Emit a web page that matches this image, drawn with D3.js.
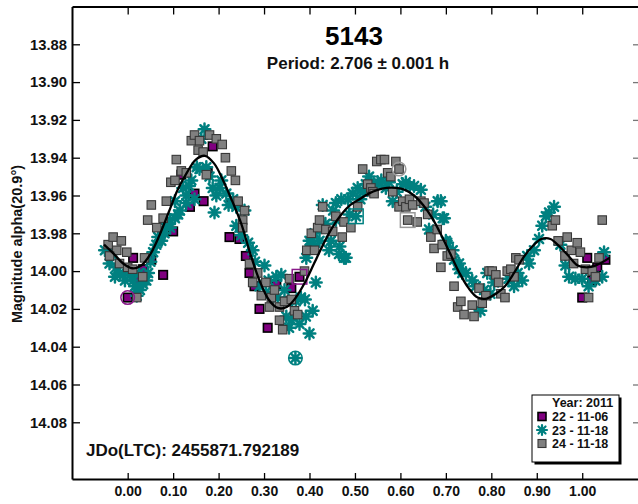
<!DOCTYPE html>
<html>
<head>
<meta charset="utf-8">
<script src="https://cdn.jsdelivr.net/npm/d3@7"></script>
<style>
  html, body { margin: 0; padding: 0; background: #fff; }
  svg { display: block; font-family: "Liberation Sans", Arial, sans-serif; font-weight: bold; }
</style>
</head>
<body>
<svg id="chart" width="638" height="504"></svg>
<script>
// Axis ticks
const xTickValues = [0.0, 0.1, 0.2, 0.3, 0.4, 0.5, 0.6, 0.7, 0.8, 0.9, 1.0];
const yTickValues = [13.88, 13.90, 13.92, 13.94, 13.96, 13.98, 14.00, 14.02, 14.04, 14.06, 14.08];

// Session names (legend)
const sessions = ["22 - 11-06", "23 - 11-18", "24 - 11-18"];

// Session 22 (2011-11-06): [phase, magnitude]
const s22 = [
  [0.000,14.014],[0.012,13.993],[0.023,14.005],[0.034,13.999],[0.052,13.994],[0.078,14.002],
  [0.100,13.979],[0.118,13.949],[0.137,13.966],[0.147,13.959],[0.167,13.963],[0.176,13.948],
  [0.187,13.934],[0.224,13.982],[0.228,13.964],[0.246,13.983],[0.260,13.992],[0.268,14.001],
  [0.279,14.008],[0.290,14.020],[0.308,14.030],[0.327,14.007],[0.352,14.016],[0.360,14.009],
  [0.378,14.003],
  [1.000,14.014],[1.011,13.993],[1.022,14.005],[1.033,13.998],[1.051,13.994]
];
const s22First = [0.000, 14.014];
const s22Last = [0.378, 14.003];

// Session 23 (2011-11-18)
const s23 = [
  [-0.050,13.989],[-0.040,13.996],[-0.035,13.991],[-0.028,14.003],[-0.025,13.998],[-0.017,14.001],
  [-0.006,14.005],[0.004,14.002],[0.012,14.005],[0.016,14.008],[0.020,14.013],[0.025,14.001],
  [0.027,14.010],[0.034,14.007],[0.041,14.005],[0.045,14.001],[0.050,13.995],[0.056,13.990],
  [0.063,13.986],[0.067,13.982],[0.074,13.984],[0.078,13.978],[0.081,13.980],[0.085,13.975],
  [0.093,13.977],[0.093,13.973],[0.104,13.972],[0.104,13.963],[0.111,13.970],[0.115,13.968],
  [0.122,13.956],[0.129,13.960],[0.129,13.964],[0.135,13.955],[0.140,13.952],[0.147,13.962],
  [0.152,13.945],[0.158,13.946],[0.162,13.930],[0.169,13.925],[0.173,13.945],[0.180,13.950],
  [0.187,13.956],[0.191,13.969],[0.195,13.960],[0.202,13.956],[0.206,13.952],[0.217,13.959],
  [0.222,13.965],[0.232,13.962],[0.239,13.966],[0.239,13.976],[0.246,13.977],[0.250,13.981],
  [0.257,13.968],[0.265,13.985],
  [0.275,13.989],[0.280,13.995],[0.290,14.008],[0.301,13.997],[0.304,14.011],[0.310,14.005],
  [0.320,14.013],[0.327,14.003],[0.330,14.014],[0.338,14.002],[0.345,14.010],[0.349,14.024],
  [0.355,14.030],[0.360,14.026],[0.369,14.046],[0.370,14.016],[0.378,14.028],[0.381,14.014],
  [0.390,14.015],[0.392,14.024],[0.400,14.033],[0.407,14.021],[0.414,14.006],
  [0.400,13.984],[0.393,13.993],[0.407,13.986],[0.411,13.980],[0.422,13.984],
  [0.429,13.965],[0.435,13.975],[0.443,13.989],[0.447,13.984],[0.452,13.968],[0.458,13.964],
  [0.458,13.973],[0.465,13.991],[0.466,13.987],[0.470,13.962],[0.476,13.993],[0.480,13.993],
  [0.485,13.962],[0.488,13.970],[0.495,13.959],[0.502,13.971],[0.506,13.956],[0.512,13.962],
  [0.518,13.958],[0.524,13.954],[0.531,13.950],[0.540,13.955],[0.550,13.953],[0.558,13.952],
  [0.568,13.956],[0.575,13.953],[0.583,13.963],[0.592,13.958],[0.605,13.954],[0.612,13.953],
  [0.620,13.955],[0.630,13.955],[0.645,13.957],[0.655,13.966],[0.663,13.978],[0.672,13.970],
  [0.682,13.963],[0.689,13.963],[0.693,13.972],[0.696,13.972],[0.700,13.984],[0.703,13.985],
  [0.715,13.989],[0.718,13.994],[0.729,13.996],[0.729,13.999],[0.736,14.001],[0.744,14.001],
  [0.758,14.005],[0.766,14.008],[0.776,14.021],[0.784,14.010],[0.791,14.001],[0.798,14.012],
  [0.806,14.006],[0.838,14.004],[0.850,14.008],[0.858,14.001],
  [0.868,14.005],[0.879,13.992],[0.883,13.996],[0.894,13.989],[0.905,13.983],[0.912,13.976],
  [0.920,13.971],[0.927,13.969],[0.938,13.966],[0.952,13.986],[0.963,13.997],[0.971,14.003],
  [0.985,14.004],[1.000,14.004],[1.014,14.008],[1.029,14.005],[1.044,14.003],[1.048,13.990]
];
const s23First = [0.369, 14.046];
const s23Last = [0.502, 13.971];

// Session 24 (2011-11-18)
const s24 = [
  [-0.043,13.986],[-0.032,13.982],[-0.014,13.984],[-0.024,13.989],[-0.002,13.990],[-0.040,13.992],
  [-0.018,13.996],[0.000,13.998],[0.011,13.999],[0.033,14.003],[0.037,13.993],[0.020,14.014],
  [0.044,13.973],[0.064,13.977],[0.052,13.965],[0.078,13.972],[0.085,13.963],
  [0.095,13.953],[0.104,13.952],[0.107,13.941],[0.118,13.947],[0.129,13.948],[0.140,13.931],
  [0.147,13.928],[0.155,13.936],[0.158,13.931],[0.166,13.937],[0.173,13.949],[0.180,13.928],
  [0.195,13.930],[0.208,13.933],[0.215,13.940],[0.228,13.947],[0.237,13.952],[0.243,13.963],
  [0.253,13.973],[0.257,13.968],[0.253,13.977],
  [0.268,13.996],[0.275,14.006],[0.286,14.001],[0.294,14.013],[0.304,14.006],[0.312,14.019],
  [0.316,14.014],[0.323,14.010],[0.334,14.019],[0.345,14.016],[0.356,14.004],[0.360,14.015],
  [0.367,14.021],[0.374,14.023],[0.334,14.026],[0.341,14.031],[0.389,14.000],[0.394,13.989],
  [0.404,13.980],[0.411,13.989],[0.418,13.977],
  [0.422,13.973],[0.429,13.966],[0.436,13.978],[0.451,13.979],[0.458,13.971],[0.472,13.982],
  [0.476,13.974],[0.491,13.977],[0.506,13.966],[0.517,13.946],[0.528,13.954],[0.535,13.956],
  [0.539,13.958],[0.542,13.959],[0.548,13.942],[0.557,13.941],[0.565,13.941],[0.572,13.948],
  [0.579,13.950],[0.583,13.958],[0.590,13.942],[0.597,13.946],[0.597,13.966],[0.605,13.963],
  [0.612,13.966],[0.616,13.973],[0.620,13.962],[0.627,13.965],[0.637,13.974],[0.645,13.963],
  [0.652,13.964],[0.660,13.970],[0.667,13.982],[0.674,13.988],[0.681,13.978],[0.689,13.998],
  [0.692,13.986],[0.703,13.992],[0.711,13.991],
  [0.718,14.008],[0.726,14.019],[0.733,14.016],[0.740,14.023],[0.758,14.018],[0.762,14.024],
  [0.773,14.009],[0.780,14.017],[0.788,14.013],[0.795,14.000],[0.802,14.000],[0.810,14.002],
  [0.816,14.006],[0.821,14.012],[0.830,14.014],[0.835,14.000],[0.843,13.999],[0.850,14.003],
  [0.854,13.993],[0.861,13.994],[0.934,13.976],[0.941,13.973],[0.947,13.984],[0.962,13.992],
  [0.967,13.982],[0.976,13.989],[0.981,13.996],[0.989,13.985],[0.996,13.990],
  [1.007,13.999],[1.014,14.014],[1.022,14.000],[1.029,14.003],[1.037,13.993],[1.044,13.973]
];
const s24First = [0.597, 13.946];
const s24Last = [0.616, 13.973];

// Fitted lightcurve (Fourier fit), read at regular phases
const fitPhase = [-0.052,-0.03,-0.01,0.01,0.03,0.05,0.07,0.09,0.11,0.13,0.15,0.17,0.19,0.21,0.23,0.25,
  0.27,0.29,0.31,0.33,0.35,0.37,0.39,0.41,0.43,0.45,0.47,0.49,0.51,0.53,0.55,0.57,0.59,0.61,0.63,
  0.65,0.67,0.69,0.71,0.73,0.75,0.77,0.79,0.81,0.83,0.85,0.87,0.89,0.91,0.93,0.95,0.97,0.99,1.01,
  1.03,1.06];
const fitMag = [13.986,13.991,13.996,13.9985,13.997,13.991,13.981,13.969,13.957,13.948,13.941,13.939,
  13.943,13.952,13.963,13.975,13.991,14.005,14.015,14.0195,14.019,14.014,14.006,13.996,13.986,13.977,
  13.970,13.965,13.962,13.959,13.957,13.956,13.956,13.957,13.960,13.965,13.972,13.981,13.991,14.001,
  14.009,14.014,14.0145,14.012,14.008,14.001,13.993,13.987,13.983,13.983,13.987,13.992,13.997,13.998,
  13.997,13.993];

const svg = d3.select("#chart");

const plotLeft = 72, plotRight = 641, plotTop = 6.5, plotBottom = 479;

const x = d3.scaleLinear().domain([-0.1225, 1.1293]).range([plotLeft, plotRight]);
const y = d3.scaleLinear().domain([13.86, 14.11]).range([plotTop, plotBottom]);

// Frame axes
const axisLeft = d3.axisLeft(y).tickValues(yTickValues).tickFormat(d3.format(".2f"))
  .tickSizeInner(-8).tickSizeOuter(0).tickPadding(5);
const axisBottom = d3.axisBottom(x).tickValues(xTickValues).tickFormat(d3.format(".2f"))
  .tickSizeInner(-6).tickSizeOuter(0).tickPadding(7);
const axisTop = d3.axisTop(x).tickValues(xTickValues).tickFormat("")
  .tickSizeInner(-8).tickSizeOuter(0);
const axisRight = d3.axisRight(y).tickValues(yTickValues).tickFormat("")
  .tickSizeInner(-8).tickSizeOuter(0);

function styleAxis(g, color, fontSize) {
  g.select(".domain").attr("stroke", color).attr("stroke-width", 2);
  g.selectAll(".tick line").attr("stroke", color).attr("stroke-width", 1.3);
  g.selectAll(".tick text").attr("fill", "#111").style("font-size", fontSize)
    .style("font-weight", "bold").style("font-family", "'Liberation Sans', Arial, sans-serif");
}

svg.append("g").attr("transform", `translate(0,${plotTop})`).call(axisTop).call(g => styleAxis(g, "#000", "14px"));
svg.append("g").attr("transform", `translate(${plotRight},0)`).call(axisRight).call(g => styleAxis(g, "#777", "14px"));
svg.append("g").attr("transform", `translate(${plotLeft},0)`).call(axisLeft).call(g => styleAxis(g, "#000", "14.8px"));
svg.append("g").attr("transform", `translate(0,${plotBottom})`).call(axisBottom).call(g => styleAxis(g, "#000", "14px"));

// Y axis title
svg.append("text")
  .attr("transform", `translate(22,244) rotate(-90)`)
  .attr("text-anchor", "middle")
  .style("font-size", "14.5px")
  .attr("fill", "#111")
  .text("Magnitude alpha(20.9°)");

// Titles
svg.append("text").attr("x", 354).attr("y", 45).attr("text-anchor", "middle")
  .style("font-size", "26px").attr("fill", "#000").text("5143");
svg.append("text").attr("x", 358).attr("y", 69).attr("text-anchor", "middle")
  .style("font-size", "17px").attr("fill", "#111").text("Period: 2.706 ± 0.001 h");
svg.append("text").attr("x", 86).attr("y", 456)
  .style("font-size", "17px").attr("fill", "#111").text("JDo(LTC): 2455871.792189");

// Marker shapes
const sq = 8.5;
function asteriskPath(r) {
  const a = r * 0.7071;
  return `M${-r},0L${r},0M0,${-r}L0,${r}M${-a},${-a}L${a},${a}M${-a},${a}L${a},${-a}`;
}

const marks = svg.append("g");

// Session 22: purple squares
marks.append("g").selectAll("rect").data(s22).join("rect")
  .attr("x", d => x(d[0]) - sq / 2).attr("y", d => y(d[1]) - sq / 2)
  .attr("width", sq).attr("height", sq)
  .attr("fill", "#800080").attr("stroke", "#000").attr("stroke-width", 1.6);

// Session 23: teal asterisks
marks.append("g").selectAll("path").data(s23).join("path")
  .attr("transform", d => `translate(${x(d[0])},${y(d[1])})`)
  .attr("d", asteriskPath(5.8))
  .attr("fill", "none").attr("stroke", "#008080").attr("stroke-width", 2.5)
  .attr("stroke-linecap", "round");

// Session 24: gray squares
marks.append("g").selectAll("rect").data(s24).join("rect")
  .attr("x", d => x(d[0]) - sq / 2).attr("y", d => y(d[1]) - sq / 2)
  .attr("width", sq).attr("height", sq)
  .attr("fill", "#808080").attr("stroke", "#383838").attr("stroke-width", 1.1);

// First (circle) and last (box) points of each session
const ends = [
  { first: s22First, last: s22Last, color: "#8a1a8a" },
  { first: s23First, last: s23Last, color: "#008080" },
  { first: s24First, last: s24Last, color: "#9a9a9a" }
];
ends.forEach(e => {
  marks.append("circle").attr("cx", x(e.first[0])).attr("cy", y(e.first[1])).attr("r", 6.8)
    .attr("fill", "none").attr("stroke", e.color).attr("stroke-width", 1.5);
  marks.append("rect").attr("x", x(e.last[0]) - 7.3).attr("y", y(e.last[1]) - 7.3)
    .attr("width", 14.6).attr("height", 14.6)
    .attr("fill", "none").attr("stroke", e.color).attr("stroke-width", 1.5);
});

// Fitted curve
const fit = fitPhase.map((p, i) => [p, fitMag[i]]);
svg.append("path").datum(fit)
  .attr("d", d3.line().x(d => x(d[0])).y(d => y(d[1])).curve(d3.curveCatmullRom))
  .attr("fill", "none").attr("stroke", "#000").attr("stroke-width", 2.3);

// Legend
const lg = svg.append("g");
const lx = 532, ly = 395, lw = 87, lh = 67;
lg.append("rect").attr("x", lx + 2.5).attr("y", ly + 2.5).attr("width", lw).attr("height", lh).attr("fill", "#000");
lg.append("rect").attr("x", lx).attr("y", ly).attr("width", lw).attr("height", lh)
  .attr("fill", "#fff").attr("stroke", "#000").attr("stroke-width", 1);
lg.append("text").attr("x", 552).attr("y", 407).style("font-size", "12.5px").attr("fill", "#111").text("Year: 2011");
const rowY = [416.5, 430, 443.5];
sessions.forEach((s, i) => {
  lg.append("text").attr("x", 552).attr("y", rowY[i] + 4.5).style("font-size", "12.5px").attr("fill", "#111").text(s);
});
lg.append("rect").attr("x", 538).attr("y", rowY[0] - 4).attr("width", 8).attr("height", 8)
  .attr("fill", "#800080").attr("stroke", "#000").attr("stroke-width", 1.6);
lg.append("path").attr("transform", `translate(542,${rowY[1]})`).attr("d", asteriskPath(5))
  .attr("fill", "none").attr("stroke", "#008080").attr("stroke-width", 2.2).attr("stroke-linecap", "round");
lg.append("rect").attr("x", 538).attr("y", rowY[2] - 4).attr("width", 8).attr("height", 8)
  .attr("fill", "#808080").attr("stroke", "#383838").attr("stroke-width", 1.1);
</script>
</body>
</html>
